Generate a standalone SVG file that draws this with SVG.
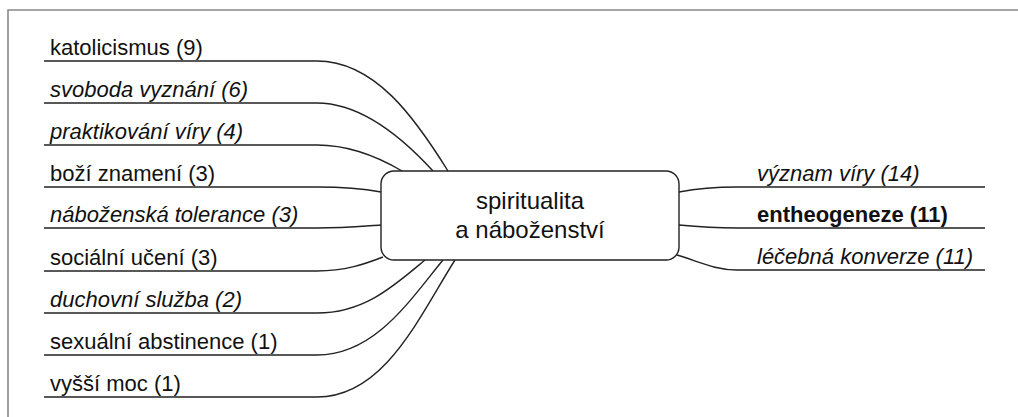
<svg xmlns="http://www.w3.org/2000/svg" width="1018" height="417" viewBox="0 0 1018 417">
<style>
.lbl{font-family:"Liberation Sans",Arial,Helvetica,sans-serif;font-size:22px;fill:#111}
.it{font-style:italic}
.bd{font-weight:bold}
.ctr{font-family:"Liberation Sans",Arial,Helvetica,sans-serif;font-size:24px;fill:#111;text-anchor:middle}
.con{fill:none;stroke:#222;stroke-width:1.4}
.frame{fill:none;stroke:#888;stroke-width:1.6}
</style>
<rect width="1018" height="417" fill="#fff"/>
<path class="frame" d="M8,417 V10 H1018"/>
<g id="connectors">
<path class="con" d="M44,61 H317 C375,61 415,118 448,171"/>
<path class="con" d="M44,103 H317 C360,103 400,135 433,171"/>
<path class="con" d="M44,145 H317 C350,145 380,158 402,171"/>
<path class="con" d="M44,187 H317 C345,187 365,189 381,192"/>
<path class="con" d="M44,228 H317 C345,228 365,226 381,225"/>
<path class="con" d="M44,271 H317 C345,271 365,264 383,257"/>
<path class="con" d="M44,313 H317 C365,313 395,285 425,260"/>
<path class="con" d="M44,355 H317 C375,355 410,300 443,260"/>
<path class="con" d="M44,397 H317 C385,397 420,315 455,260"/>
<path class="con" d="M679,192 C700,188 715,187 737,187 H985"/>
<path class="con" d="M679,225 C700,227 715,228 737,228 H985"/>
<path class="con" d="M677,255 C700,262 715,270 737,270 H985"/>
</g>
<g id="center">
<rect x="381" y="171" width="298" height="89" rx="13" fill="#fff" stroke="#222" stroke-width="1.4"/>
<text class="ctr" x="530" y="209">spiritualita</text>
<text class="ctr" x="530" y="238">a náboženství</text>
</g>
<g id="n1"><text class="lbl" x="50" y="55">katolicismus (9)</text></g>
<g id="n2"><text class="lbl it" x="50" y="97">svoboda vyznání (6)</text></g>
<g id="n3"><text class="lbl it" x="50" y="139">praktikování víry (4)</text></g>
<g id="n4"><text class="lbl" x="50" y="181">boží znamení (3)</text></g>
<g id="n5"><text class="lbl it" x="50" y="222">náboženská tolerance (3)</text></g>
<g id="n6"><text class="lbl" x="50" y="265">sociální učení (3)</text></g>
<g id="n7"><text class="lbl it" x="50" y="307">duchovní služba (2)</text></g>
<g id="n8"><text class="lbl" x="50" y="349">sexuální abstinence (1)</text></g>
<g id="n9"><text class="lbl" x="50" y="391">vyšší moc (1)</text></g>
<g id="r1"><text class="lbl it" x="757" y="181">význam víry (14)</text></g>
<g id="r2"><text class="lbl bd" x="757" y="222">entheogeneze (11)</text></g>
<g id="r3"><text class="lbl it" x="757" y="264">léčebná konverze (11)</text></g>
</svg>
